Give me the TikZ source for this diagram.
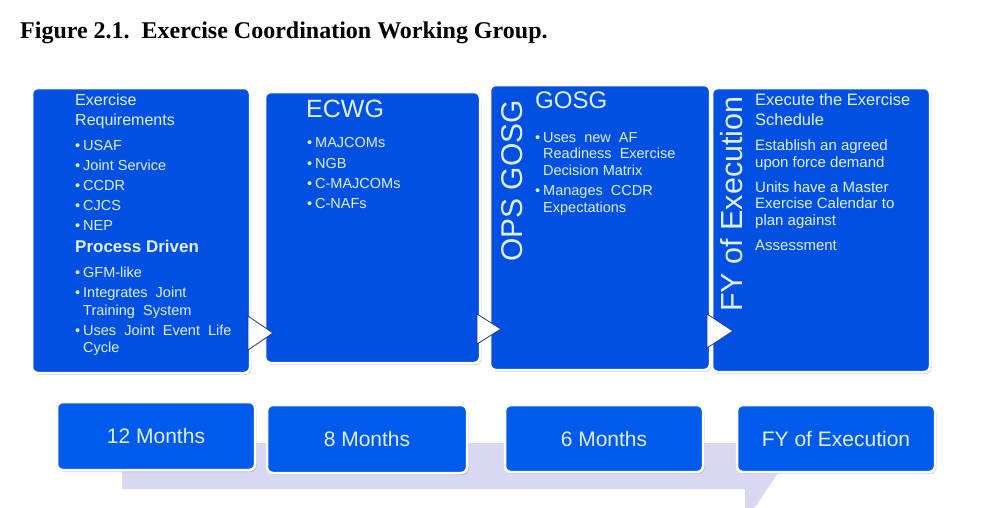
\documentclass[tikz,border=0pt]{standalone}
\usepackage{fontspec}
\setmainfont{Liberation Sans}
\newfontfamily\titlefont{Liberation Serif}
\usetikzlibrary{shadows}
\definecolor{panelblue}{RGB}{2,80,226}
\definecolor{boxblue}{RGB}{0,90,234}
\definecolor{txtc}{RGB}{224,240,255}
\definecolor{lav}{RGB}{216,216,242}
\definecolor{navy}{RGB}{28,56,130}
\newcounter{tlc}
\newcommand\txtline[4]{\stepcounter{tlc}\node[txt,font=\fontsize{#3}{#3}\selectfont] (tl\arabic{tlc}) at (#1,#2) {#4};}
\newcommand\bul{\makebox[8pt][l]{\textbullet}}
\begin{document}
\begin{tikzpicture}[x=1pt,y=-1pt,
  panel/.style={rectangle,rounded corners=6pt,fill=panelblue,draw=white,line width=2.5pt,inner sep=0pt,
    drop shadow={shadow xshift=1.5pt,shadow yshift=-2pt,opacity=0.3,fill=gray}},
  tbox/.style={rectangle,rounded corners=6pt,fill=boxblue,draw=white,line width=2.5pt,inner sep=0pt,
    text=txtc,font=\fontsize{21}{21}\selectfont,
    drop shadow={shadow xshift=1.5pt,shadow yshift=-2pt,opacity=0.3,fill=gray}},
  txt/.style={anchor=base west,inner sep=0pt,text=txtc},
  vtxt/.style={anchor=base west,inner sep=0pt,text=txtc,rotate=90},
  chev/.style={fill=white,draw=navy,line width=0.8pt,line join=miter}]
\useasboundingbox (0,0) rectangle (985,507);
\fill[white] (0,0) rectangle (985,507);

% title
\node[anchor=base west,inner sep=0pt,font=\titlefont\bfseries\fontsize{24}{24}\selectfont] (title) at (20,38)
  {Figure 2.1.\ \ Exercise Coordination Working Group.};

% background timeline arrow
\fill[lav] (122,443) -- (745,443) -- (745,410) -- (790,455) -- (745,522) -- (745,489) -- (122,489) -- cycle;

% panels
\node[panel,minimum width=218pt,minimum height=285pt] (p1) at (141,230.5) {};
\node[panel,minimum width=215pt,minimum height=271pt] (p2) at (372.5,227.5) {};
\node[panel,minimum width=220pt,minimum height=285pt] (p3) at (600,227.5) {};
\node[panel,minimum width=218pt,minimum height=284pt] (p4) at (821,230) {};

% chevrons
\draw[chev] (248,316) -- (273,333) -- (248,350) -- cycle;
\draw[chev] (477,314) -- (501,329) -- (477,344) -- cycle;
\draw[chev] (707,314) -- (733,331) -- (707,348) -- cycle;

% panel 1 text
\txtline{75}{105}{16}{Exercise}
\txtline{75}{125}{16}{Requirements}
\txtline{75}{150}{14.5}{\bul USAF}
\txtline{75}{170}{14.5}{\bul Joint Service}
\txtline{75}{190}{14.5}{\bul CCDR}
\txtline{75}{210}{14.5}{\bul CJCS}
\txtline{75}{230}{14.5}{\bul NEP}
\txtline{75}{252}{17}{\bfseries Process Driven}
\txtline{75}{277}{14.5}{\bul GFM-like}
\txtline{75}{297}{14.5}{\bul Integrates\ \ Joint}
\txtline{83}{315}{14.5}{Training\ \ System}
\txtline{75}{335}{14.5}{\bul Uses\ \ Joint\ \ Event\ \ Life}
\txtline{83}{352}{14.5}{Cycle}

% panel 2 text
\txtline{306}{117}{25}{ECWG}
\txtline{307}{147}{14.5}{\bul MAJCOMs}
\txtline{307}{168}{14.5}{\bul NGB}
\txtline{307}{188}{14.5}{\bul C-MAJCOMs}
\txtline{307}{208}{14.5}{\bul C-NAFs}

% panel 3 text
\node[vtxt,font=\fontsize{30}{30}\selectfont] (v3) at (522,262) {OPS GOSG};
\txtline{535}{108}{24}{GOSG}
\txtline{535}{142}{14.5}{\bul Uses\ \ new\ \ AF}
\txtline{543}{158}{14.5}{Readiness\ \ Exercise}
\txtline{543}{175}{14.5}{Decision Matrix}
\txtline{535}{195}{14.5}{\bul Manages\ \ CCDR}
\txtline{543}{212}{14.5}{Expectations}

% panel 4 text
\node[vtxt,font=\fontsize{30.5}{30.5}\selectfont] (v4) at (742,312) {FY of Execution};
\txtline{755}{105}{16.5}{Execute the Exercise}
\txtline{755}{125}{16.5}{Schedule}
\txtline{755}{150}{15}{Establish an agreed}
\txtline{755}{167}{15}{upon force demand}
\txtline{755}{192}{15}{Units have a Master}
\txtline{755}{208}{15}{Exercise Calendar to}
\txtline{755}{225}{15}{plan against}
\txtline{755}{250}{15}{Assessment}

% bottom time boxes
\node[tbox,minimum width=198pt,minimum height=68pt] (b1) at (156,436) {12 Months};
\node[tbox,minimum width=200pt,minimum height=68pt] (b2) at (367,439) {8 Months};
\node[tbox,minimum width=198pt,minimum height=67pt] (b3) at (604,438.5) {6 Months};
\node[tbox,minimum width=198pt,minimum height=67pt] (b4) at (836,438.5) {FY of Execution};
\end{tikzpicture}
\end{document}
